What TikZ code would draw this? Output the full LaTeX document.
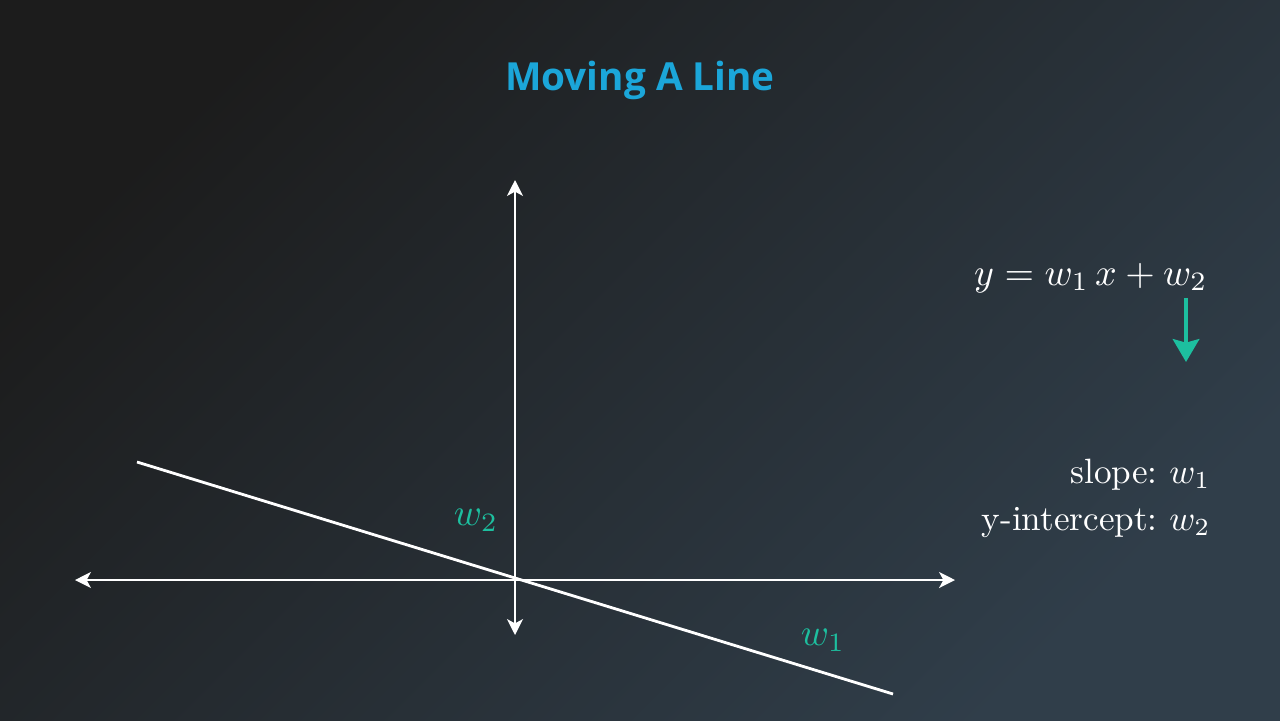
\documentclass[tikz,border=0pt]{standalone}
\usepackage{fix-cm}
\usepackage{amsmath}
\usepackage{fontspec}
\newfontfamily\titlefont{Open Sans}
\usepackage{tikz}
\usetikzlibrary{arrows.meta}
\definecolor{bgdark}{HTML}{1C1C1C}
\definecolor{bgblue}{HTML}{303E4A}
\definecolor{titleblue}{HTML}{1BA6D9}
\definecolor{wteal}{HTML}{1DBF9F}
\frenchspacing

\begin{document}
\begin{tikzpicture}[x=0.01cm, y=0.01cm,
    axis/.style={{Stealth[length=4.5pt, width=4.5pt, inset=1.2pt]}-{Stealth[length=4.5pt, width=4.5pt, inset=1.2pt]}, line width=0.8pt, white},
    fitline/.style={line width=0.8pt, white},
    wlabel/.style={wteal, font=\fontsize{10.8}{13}\selectfont},
    eqtext/.style={white, font=\fontsize{10.8}{13}\selectfont},
    notetext/.style={white, font=\fontsize{10}{12}\selectfont, anchor=base east, inner sep=0pt},
    downarrow/.style={-{Stealth[length=6.5pt, width=7.5pt, inset=1pt]}, line width=1.2pt, wteal}]
  %--- Background
  \fill[top color=bgdark, bottom color=bgblue, shading angle=45] (0,0) rectangle (1280,720);
  \useasboundingbox (0,0) rectangle (1280,720);
  %--- Title
  \node[titleblue, font=\titlefont\bfseries\fontsize{11}{14}\selectfont] (title) at (640,640) {Moving A Line};
  %--- Coordinates
  \coordinate (XL) at (75,140);
  \coordinate (XR) at (955,140);
  \coordinate (YT) at (515,540);
  \coordinate (YB) at (515,85);
  \coordinate (L1) at (137,258);   % left end of line
  \coordinate (L2) at (893,26);    % right end of line
  %--- Axes
  \draw[axis] (XL) -- (XR);
  \draw[axis] (YB) -- (YT);
  %--- Line
  \draw[fitline] (L1) -- (L2);
  %--- Labels on the line
  \node[wlabel] (w2) at (476,200) {$w_2$};
  \node[wlabel] (w1) at (823,80) {$w_1$};
  %--- Equation and arrow
  \node[eqtext, anchor=base east, inner sep=0pt] (eq) at (1208,435) {$y = w_1\,x + w_2$};
  \coordinate (A1) at (1186,422);
  \coordinate (A2) at (1186,358);
  \draw[downarrow] (A1) -- (A2);
  %--- Meaning of weights
  \node[notetext] (slope) at (1211,237) {slope: $w_1$};
  \node[notetext] (icpt) at (1211,190) {y-intercept: $w_2$};
\end{tikzpicture}
\end{document}
